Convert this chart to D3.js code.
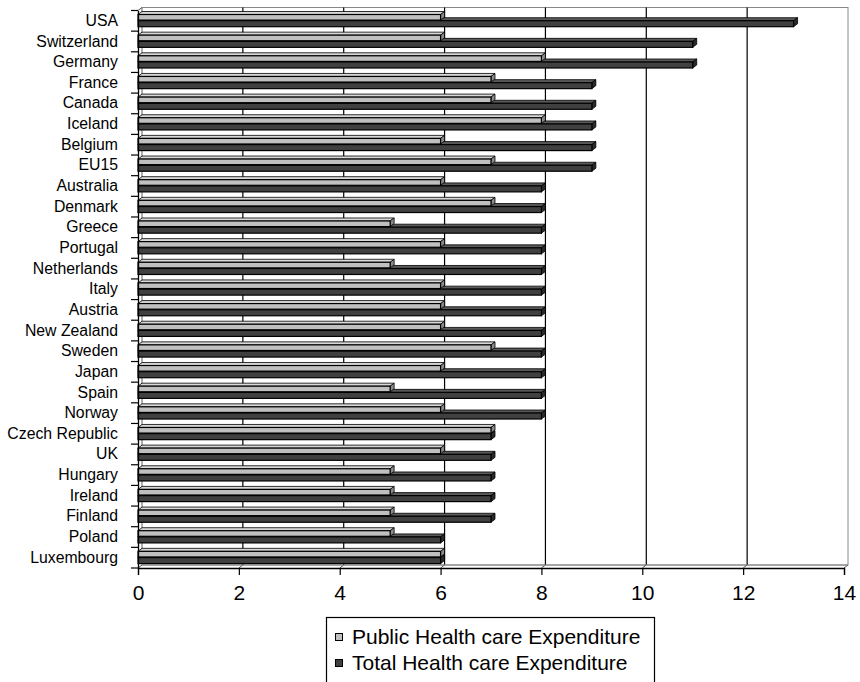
<!DOCTYPE html>
<html><head><meta charset="utf-8">
<script src="https://cdn.jsdelivr.net/npm/d3@7"></script>
<style>body{margin:0;background:#fff}svg{display:block}text{font-family:"Liberation Sans",Arial,sans-serif;fill:#000}</style>
</head><body>
<script>
const categories = ["USA","Switzerland","Germany","France","Canada","Iceland","Belgium","EU15","Australia","Denmark","Greece","Portugal","Netherlands","Italy","Austria","New Zealand","Sweden","Japan","Spain","Norway","Czech Republic","UK","Hungary","Ireland","Finland","Poland","Luxembourg"];
const publicValues = [6,6,8,7,7,8,6,7,6,7,5,6,5,6,6,6,7,6,5,6,7,6,5,5,5,5,6];
const totalValues  = [13,11,11,9,9,9,9,9,8,8,8,8,8,8,8,8,8,8,8,8,7,7,7,7,7,6,6];
const xTicks = [0,2,4,6,8,10,12,14];
const seriesNames = ["Public Health care Expenditure","Total Health care Expenditure"];
const seriesColors = ["#c0c0c0","#404040"];
const capColors = ["#8a8a8a","#2a2a2a"];
const topColors = ["#d8d8d8","#5a5a5a"];

const W=860,H=682;
const svg=d3.select("body").append("svg").attr("width",W).attr("height",H);
const x=d3.scaleLinear().domain([0,14]).range([138,844]);
const y=d3.scaleBand().domain(categories).range([10.5,568]);
const dx=4, dy=3;
const yBottom=568, yTop=10.5-dy;

// back wall
svg.append("rect").attr("x",x(0)+dx).attr("y",yTop).attr("width",x(14)-x(0)).attr("height",yBottom-dy-yTop)
  .attr("fill","#fff").attr("stroke","#888").attr("stroke-width",1);
// gridlines
svg.selectAll("line.grid").data(xTicks.slice(1,-1)).join("line")
  .attr("x1",d=>x(d)+dx).attr("x2",d=>x(d)+dx).attr("y1",yTop).attr("y2",yBottom-dy)
  .attr("stroke","#000").attr("stroke-width",1.2);
// floor slants
svg.selectAll("line.fl").data(xTicks).join("line")
  .attr("x1",d=>x(d)).attr("y1",yBottom).attr("x2",d=>x(d)+dx).attr("y2",yBottom-dy)
  .attr("stroke","#555").attr("stroke-width",1);
svg.append("line").attr("x1",x(0)+dx).attr("x2",x(14)+dx).attr("y1",yBottom-dy).attr("y2",yBottom-dy).attr("stroke","#888");
// left wall
svg.append("line").attr("x1",x(0)+dx).attr("x2",x(0)+dx).attr("y1",yTop).attr("y2",yBottom-dy).attr("stroke","#999");
svg.append("line").attr("x1",x(0)).attr("y1",10.5).attr("x2",x(0)+dx).attr("y2",yTop).attr("stroke","#555");

// bars
const offs=[4,10.2], hs=[5.6,6];
function drawBar(g,cat,v,s){
  const x0=x(0), x1=x(v), y0=y(cat)+offs[s], h=hs[s];
  g.append("polygon").attr("points",[[x0,y0],[x0+dx,y0-dy],[x1+dx,y0-dy],[x1,y0]].join(" "))
    .attr("fill",topColors[s]).attr("stroke","#000").attr("stroke-width",0.8);
  g.append("polygon").attr("points",[[x1,y0],[x1+dx,y0-dy],[x1+dx,y0+h-dy],[x1,y0+h]].join(" "))
    .attr("fill",capColors[s]).attr("stroke","#000").attr("stroke-width",0.8);
  g.append("rect").attr("x",x0).attr("y",y0).attr("width",x1-x0).attr("height",h)
    .attr("fill",seriesColors[s]).attr("stroke","#000").attr("stroke-width",1.2);
}
const bars=svg.append("g");
categories.forEach((c,i)=>{
  const g=bars.append("g");
  drawBar(g,c,totalValues[i],1);
  drawBar(g,c,publicValues[i],0);
});

// axes
const yAxis=d3.axisLeft(y).tickSize(0).tickPadding(20);
const ya=svg.append("g").attr("transform",`translate(${x(0)},0)`).call(yAxis);
ya.select(".domain").attr("stroke","#000").attr("stroke-width",1.3);
ya.selectAll("text").style("font-size","15.8px").attr("fill","#000");
// category boundary ticks
const bounds=categories.map(c=>y(c)).concat([y.range()[1]]);
svg.selectAll("line.ct").data(bounds).join("line")
  .attr("x1",x(0)-7).attr("x2",x(0)).attr("y1",d=>d).attr("y2",d=>d).attr("stroke","#000").attr("stroke-width",1.2);

const xAxis=d3.axisBottom(x).tickValues(xTicks).tickSize(7).tickPadding(10).tickFormat(d3.format("d"));
const xa=svg.append("g").attr("transform",`translate(0,${yBottom})`).call(xAxis);
xa.select(".domain").attr("stroke","#000").attr("stroke-width",1.3);
xa.selectAll("line").attr("stroke","#000").attr("stroke-width",1.2);
xa.selectAll("text").style("font-size","21px").attr("fill","#000");

// legend
const lg=svg.append("g");
lg.append("rect").attr("x",326.5).attr("y",617.5).attr("width",328).attr("height",80).attr("fill","#fff").attr("stroke","#000").attr("stroke-width",1.2);
seriesNames.forEach((n,i)=>{
  const yy=637+i*26;
  lg.append("rect").attr("x",335.5).attr("y",yy-3.5).attr("width",7).attr("height",7).attr("fill",seriesColors[i]).attr("stroke","#000").attr("stroke-width",1);
  lg.append("text").attr("x",352).attr("y",yy).attr("dy","0.35em").style("font-size","21px").text(n);
});
</script>
</body></html>
